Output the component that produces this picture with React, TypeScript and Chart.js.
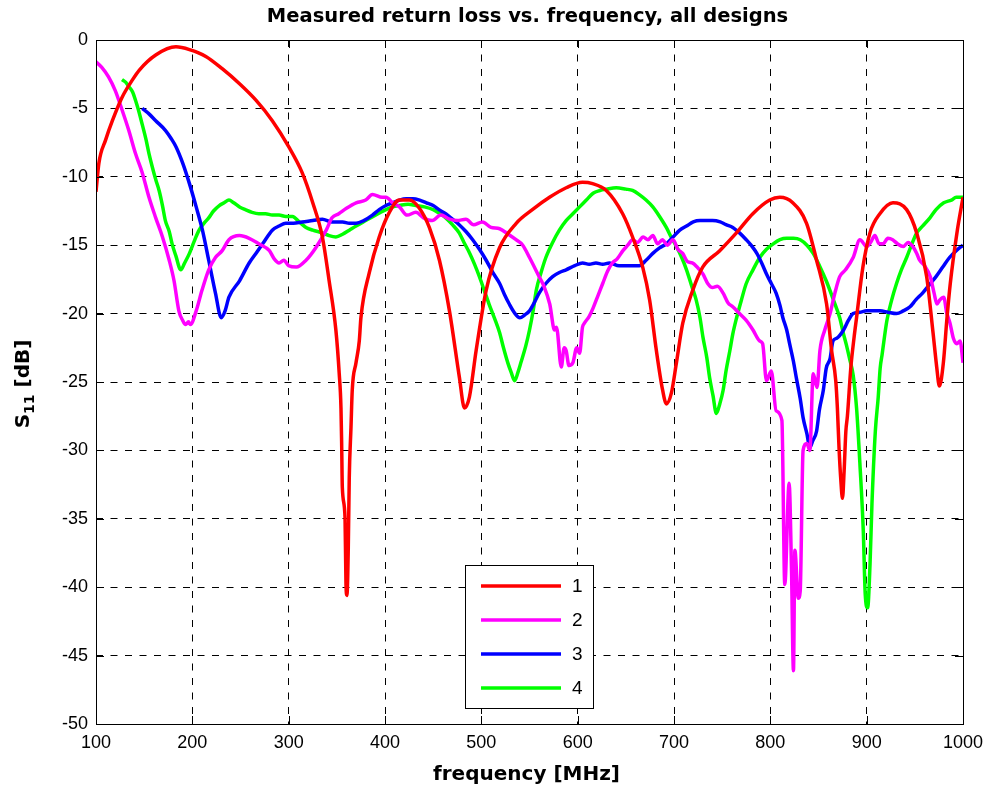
import React, { useEffect, useRef } from "react";
import { Chart, registerables } from "chart.js";

Chart.register(...registerables);

// Measured S11 (dB) versus frequency (MHz) for each design
const design1Freq = [100, 103, 110, 117, 127, 138, 145, 162, 183, 197, 214, 231, 249, 266, 283, 300, 314, 325, 335, 342, 349, 352.5, 354.3, 355, 355.7, 358.5, 359.5, 360.5, 361.9, 362.9, 364.7, 366, 369.9, 373.3, 375, 383.7, 394, 404.5, 414.9, 425.3, 435.7, 446, 456.5, 466.9, 477.3, 482.5, 487.6, 494.6, 505, 518.8, 536.2, 553, 570.8, 588.1, 605, 615.5, 629.7, 646.7, 657, 667.5, 674.7, 681.7, 688.2, 692.1, 697.3, 702.5, 709.1, 719.4, 729.8, 747.5, 764.8, 781.8, 799.4, 809.8, 823.3, 837.6, 848, 858.4, 863.6, 867.9, 869.6, 871.3, 873.2, 874.9, 876.6, 878.4, 880, 883.5, 887, 889.5, 896.1, 903.4, 913.7, 927.3, 941.5, 951.9, 962.3, 968.9, 972.7, 975.5, 979.6, 983.4, 986.8, 993.7, 1000];
const design1S11 = [-11.1, -9.0, -7.3, -5.9, -4.2, -2.9, -2.2, -1.1, -0.5, -0.7, -1.2, -2.1, -3.2, -4.4, -5.9, -7.8, -9.7, -11.9, -14.4, -17.6, -21.2, -24.4, -26.9, -29.5, -32.7, -34.9, -39.8, -40.6, -37.1, -32.0, -28.3, -25.6, -23.6, -22.0, -20.3, -17.0, -14.4, -12.6, -11.7, -11.7, -12.3, -13.7, -16.1, -19.8, -24.7, -26.9, -26.1, -22.7, -18.3, -15.2, -13.4, -12.4, -11.5, -10.8, -10.4, -10.5, -11.0, -12.7, -14.4, -16.6, -19.0, -22.7, -25.6, -26.6, -25.8, -23.6, -20.7, -18.3, -16.6, -15.4, -14.1, -12.7, -11.7, -11.5, -11.9, -13.4, -16.1, -19.3, -22.7, -24.9, -26.9, -29.8, -32.2, -33.5, -31.5, -28.6, -27.5, -24.0, -21.7, -20.3, -16.6, -14.1, -12.7, -11.9, -12.4, -14.1, -17.3, -21.4, -23.9, -25.3, -23.6, -20.3, -17.8, -14.1, -11.5];

const design2Freq = [100, 106, 113, 120, 127, 134, 141, 148, 155, 162, 169, 176, 181, 186, 190, 193, 196, 198, 204, 210, 217, 224, 231, 238, 249, 259, 269, 280, 285, 290, 295, 300, 308, 318, 328, 339, 345, 352, 360, 370, 380, 387, 397, 401, 408, 415, 423, 432, 440, 449, 458, 467, 475, 484, 492, 501, 510, 519, 528, 536, 543, 550, 560, 565, 571, 576, 578, 583, 586, 588, 591, 595, 599, 602, 605, 607, 612, 616, 621, 626, 631, 636, 641, 647, 652, 657, 662, 668, 673, 678, 683, 688, 693, 699, 704, 709, 714, 719, 724, 730, 735, 740, 745, 751, 756, 761, 768, 775, 782, 789, 792, 796, 801, 806, 812, 815, 819.5, 822, 824, 825.5, 829, 831, 834, 838, 841, 844.5, 848.5, 851.5, 856.5, 862, 867, 872, 878, 886, 893, 900, 904, 908.5, 913, 917, 922, 927, 932, 938, 943, 948, 952, 955, 960, 966, 970, 973, 976, 980, 983, 986.5, 990, 993.5, 997, 1000];
const design2S11 = [-1.6, -2.0, -2.7, -3.7, -5.1, -6.6, -8.3, -9.7, -11.5, -13.0, -14.4, -16.1, -17.6, -19.8, -20.5, -20.8, -20.6, -20.8, -19.8, -18.3, -16.8, -15.9, -15.4, -14.6, -14.3, -14.5, -14.9, -15.4, -16.0, -16.3, -16.1, -16.5, -16.6, -16.1, -15.2, -13.9, -13.0, -12.7, -12.3, -11.9, -11.7, -11.3, -11.5, -11.5, -11.9, -12.2, -12.8, -12.6, -13.0, -13.2, -12.8, -13.1, -13.2, -13.1, -13.5, -13.3, -13.7, -13.8, -14.2, -14.6, -15.0, -15.9, -17.3, -18.0, -19.3, -21.2, -21.0, -23.9, -22.5, -22.7, -23.8, -23.6, -22.5, -22.9, -21.0, -20.7, -20.2, -19.6, -18.7, -17.8, -16.9, -16.3, -16.0, -15.4, -15.0, -14.6, -14.8, -14.4, -14.6, -14.3, -14.9, -14.6, -15.0, -14.6, -15.3, -15.6, -16.2, -16.3, -16.6, -17.1, -17.8, -18.1, -18.0, -18.5, -19.2, -19.5, -20.0, -20.5, -21.2, -22.0, -22.2, -24.9, -24.2, -27.1, -27.8, -39.8, -32.4, -38.8, -46.1, -37.3, -40.8, -40.3, -30.0, -29.5, -30.0, -24.4, -25.4, -22.7, -21.2, -20.0, -18.5, -17.3, -16.8, -15.9, -14.6, -15.1, -14.8, -14.3, -14.9, -14.9, -14.5, -14.6, -14.9, -15.1, -14.8, -15.1, -15.6, -16.1, -16.5, -17.3, -18.5, -19.3, -19.0, -18.8, -19.9, -20.7, -21.8, -22.2, -22.0, -23.6];

const design3Freq = [148, 155, 162, 172, 178, 183, 190, 197, 204, 210.5, 217, 224, 230, 234, 238, 249, 259, 266, 273, 283, 290, 297, 305, 314, 325, 335, 345, 356, 363, 370, 378, 387, 394, 401, 408, 415, 422, 429, 436, 443, 450, 456, 463, 470, 477, 484, 491, 498, 505, 512, 519, 524, 529, 535, 540, 545, 550, 555, 560, 567, 574, 581, 588, 597, 605, 612, 619, 626, 633, 643, 654, 664, 671, 678, 685, 692, 699, 706, 713, 720, 727, 734, 740, 748, 754, 761, 768, 775, 780, 786, 791, 796, 801, 806, 810, 813, 817, 820, 824, 827, 831, 834, 838, 841, 844, 848, 851, 855, 858, 862, 865, 869, 876, 881, 886, 893, 900, 907, 914, 922, 931, 938, 945, 951, 958, 965, 972, 979, 986, 993, 1000];
const design3S11 = [-5.0, -5.4, -5.9, -6.6, -7.2, -7.8, -9.0, -10.5, -12.2, -13.9, -16.1, -18.5, -20.3, -19.8, -18.8, -17.6, -16.3, -15.6, -14.9, -13.9, -13.6, -13.4, -13.4, -13.3, -13.2, -13.1, -13.3, -13.3, -13.4, -13.4, -13.2, -12.8, -12.4, -12.1, -11.9, -11.7, -11.6, -11.6, -11.7, -11.9, -12.1, -12.4, -12.7, -13.1, -13.5, -14.0, -14.6, -15.3, -16.1, -17.0, -17.8, -18.6, -19.3, -20.0, -20.3, -20.1, -19.8, -19.2, -18.5, -17.8, -17.3, -17.0, -16.8, -16.5, -16.3, -16.4, -16.3, -16.4, -16.3, -16.5, -16.5, -16.5, -16.1, -15.6, -15.2, -14.9, -14.4, -13.9, -13.6, -13.3, -13.2, -13.2, -13.2, -13.3, -13.5, -13.7, -14.1, -14.6, -15.0, -15.6, -16.3, -17.1, -17.8, -18.5, -19.4, -20.3, -21.2, -22.2, -23.5, -24.7, -26.2, -27.6, -28.8, -29.8, -29.3, -28.6, -27.0, -25.6, -24.0, -23.3, -22.0, -21.8, -21.2, -20.5, -20.0, -19.9, -19.8, -19.8, -19.8, -19.9, -20.0, -19.8, -19.5, -19.0, -18.5, -17.9, -17.3, -16.6, -15.9, -15.4, -15.0];

const design4Freq = [127, 131, 134, 138, 141, 144, 147, 152, 155, 158.5, 162, 165.5, 169, 172, 176, 179, 183, 188, 192, 197, 202, 207, 212, 217, 222, 228, 233, 238, 243, 249, 255, 262, 269, 276, 283, 290, 297, 304, 311, 318, 325, 335, 342, 349, 356, 363, 370, 380, 390, 401, 408, 415, 424, 432, 441, 450, 457, 463, 470, 477, 482, 488, 493, 498, 503, 508, 514, 519, 523, 527.5, 531, 534.5, 538, 541, 546, 550, 554, 557, 562, 567, 574, 581, 588, 595, 602, 609, 616, 623, 630, 640, 650, 657, 664, 671, 678, 685, 692, 697, 702.5, 708, 713, 718, 723, 727, 730, 734, 737, 740.5, 744, 747.5, 751, 754, 758, 761, 765, 770, 775, 782, 789, 796, 803, 810, 817, 824, 831, 838, 844.5, 851, 858, 865, 872, 876, 879, 882.6, 886, 889.5, 893, 896.5, 898.5, 901, 903.5, 905.5, 909, 912, 914, 916, 921, 926, 931, 936, 941.5, 947, 952, 958, 965.7, 972, 980, 988, 993, 1000];
const design4S11 = [-2.9, -3.1, -3.4, -3.8, -4.4, -5.1, -5.9, -7.3, -8.3, -9.3, -10.2, -11.0, -12.1, -13.2, -14.0, -14.9, -15.8, -16.8, -16.3, -15.6, -14.7, -13.9, -13.4, -13.0, -12.5, -12.1, -11.9, -11.7, -11.9, -12.2, -12.4, -12.6, -12.7, -12.7, -12.8, -12.8, -12.9, -12.9, -13.3, -13.7, -13.9, -14.1, -14.3, -14.4, -14.2, -13.9, -13.6, -13.2, -12.8, -12.4, -12.2, -12.1, -12.0, -12.1, -12.2, -12.4, -12.7, -13.0, -13.5, -14.1, -14.8, -15.6, -16.4, -17.3, -18.3, -19.3, -20.4, -21.4, -22.5, -23.6, -24.3, -24.9, -24.3, -23.6, -22.4, -21.2, -19.7, -18.3, -17.0, -15.9, -14.8, -13.9, -13.2, -12.7, -12.2, -11.7, -11.2, -11.0, -10.9, -10.8, -10.9, -11.0, -11.3, -11.7, -12.2, -12.9, -13.7, -14.4, -15.1, -15.9, -16.8, -17.9, -19.0, -20.3, -21.7, -23.2, -24.7, -26.0, -27.3, -26.6, -25.6, -24.2, -22.7, -21.5, -20.3, -19.0, -17.8, -16.8, -15.9, -15.3, -14.9, -14.6, -14.5, -14.5, -14.6, -15.0, -15.6, -16.5, -17.6, -18.9, -20.3, -21.5, -22.3, -23.4, -24.5, -26.9, -31.0, -35.9, -40.5, -41.5, -38.3, -33.9, -28.6, -26.1, -24.0, -23.0, -20.5, -19.0, -17.8, -16.8, -15.9, -14.9, -14.1, -13.6, -13.0, -12.4, -11.9, -11.7, -11.5, -11.5];

const seriesLabels = ["1", "2", "3", "4"];
const seriesColors = ["#ff0000", "#ff00ff", "#0000ff", "#00ff00"];
const seriesFreqs = [design1Freq, design2Freq, design3Freq, design4Freq];
const seriesValues = [design1S11, design2S11, design3S11, design4S11];

const chartTitle = "Measured return loss vs. frequency, all designs";
const xAxisTitle = "frequency [MHz]";

const TICK_FONT = { family: "'Liberation Sans', Arial, sans-serif", size: 18 };
const BOLD_FAMILY = "'DejaVu Sans', Verdana, sans-serif";

const decorPlugin = {
  id: "decor",
  afterDatasetsDraw(chart: any) {
    const { ctx, chartArea: a, scales } = chart;
    ctx.save();
    // axes frame
    ctx.strokeStyle = "#000";
    ctx.lineWidth = 1;
    ctx.setLineDash([]);
    ctx.strokeRect(Math.round(a.left) + 0.5, Math.round(a.top) + 0.5, Math.round(a.right - a.left), Math.round(a.bottom - a.top));

    // inward tick marks on all four sides
    const tl = 8;
    ctx.beginPath();
    scales.x.ticks.forEach((t: any) => {
      const px = Math.round(scales.x.getPixelForValue(t.value)) + 0.5;
      ctx.moveTo(px, a.bottom); ctx.lineTo(px, a.bottom - tl);
      ctx.moveTo(px, a.top); ctx.lineTo(px, a.top + tl);
    });
    scales.y.ticks.forEach((t: any) => {
      const py = Math.round(scales.y.getPixelForValue(t.value)) + 0.5;
      ctx.moveTo(a.left, py); ctx.lineTo(a.left + tl, py);
      ctx.moveTo(a.right, py); ctx.lineTo(a.right - tl, py);
    });
    ctx.stroke();

    // legend box inside the plot
    const bx = 465, by = 565, bw = 128, bh = 143;
    ctx.fillStyle = "#fff";
    ctx.fillRect(bx, by, bw, bh);
    ctx.strokeRect(bx + 0.5, by + 0.5, bw, bh);
    const rowY = [586, 620, 654, 688];
    chart.data.datasets.forEach((ds: any, i: number) => {
      ctx.strokeStyle = ds.borderColor;
      ctx.lineWidth = 3.5;
      ctx.beginPath();
      ctx.moveTo(481, rowY[i]);
      ctx.lineTo(561, rowY[i]);
      ctx.stroke();
      ctx.fillStyle = "#000";
      ctx.font = "19px 'Liberation Sans', Arial, sans-serif";
      ctx.textAlign = "left";
      ctx.textBaseline = "middle";
      ctx.fillText(ds.label, 572, rowY[i] + 1);
    });

    // title
    const cx = (a.left + a.right) / 2;
    ctx.fillStyle = "#000";
    ctx.textAlign = "center";
    ctx.textBaseline = "middle";
    ctx.font = `bold 19.5px ${BOLD_FAMILY}`;
    ctx.fillText(chartTitle, cx - 2, 17);

    // x axis title
    ctx.font = `bold 20px ${BOLD_FAMILY}`;
    ctx.fillText(xAxisTitle, cx - 3, 775);

    // y axis title: S with subscript 11, then [dB]
    const cy = (a.top + a.bottom) / 2;
    ctx.translate(22, cy + 2);
    ctx.rotate(-Math.PI / 2);
    const fMain = `bold 20px ${BOLD_FAMILY}`;
    const fSub = `bold 14px ${BOLD_FAMILY}`;
    ctx.font = fMain;
    const wS = ctx.measureText("S").width;
    const wRest = ctx.measureText(" [dB]").width;
    ctx.font = fSub;
    const wSub = ctx.measureText("11").width;
    const total = wS + wSub + wRest;
    let x0 = -total / 2;
    ctx.textAlign = "left";
    ctx.textBaseline = "alphabetic";
    ctx.font = fMain;
    ctx.fillText("S", x0, 7);
    x0 += wS;
    ctx.font = fSub;
    ctx.fillText("11", x0, 12);
    x0 += wSub;
    ctx.font = fMain;
    ctx.fillText(" [dB]", x0, 7);
    ctx.restore();
  },
};

export default function App() {
  const canvasRef = useRef<HTMLCanvasElement | null>(null);

  useEffect(() => {
    document.body.style.margin = "0";
    const canvas = canvasRef.current;
    if (!canvas) return;
    const datasets = seriesLabels.map((label, i) => ({
      label,
      data: seriesFreqs[i].map((f, j) => ({ x: f, y: seriesValues[i][j] })),
      borderColor: seriesColors[i],
      backgroundColor: seriesColors[i],
      borderWidth: 3.5,
      pointRadius: 0,
      tension: 0,
      cubicInterpolationMode: "monotone" as const,
      fill: false,
    }));
    const chart = new Chart(canvas, {
      type: "line",
      data: { datasets },
      options: {
        responsive: false,
        animation: false,
        devicePixelRatio: 1,
        layout: { padding: { left: 0, top: 40, right: 29, bottom: 0 } },
        plugins: {
          legend: { display: false },
          title: { display: false },
          tooltip: { enabled: false },
        },
        scales: {
          x: {
            type: "linear",
            min: 100,
            max: 1000,
            ticks: {
              stepSize: 100, color: "#000", font: TICK_FONT, padding: 8, maxRotation: 0, autoSkip: false,
              callback: (v: any) => String(v),
            },
            grid: { color: "#000", lineWidth: 1, drawTicks: false, tickLength: 0 },
            border: { display: false, dash: [7, 7.5] },
            afterFit: (s: any) => { s.height = 69; },
          },
          y: {
            type: "linear",
            min: -50,
            max: 0,
            ticks: { stepSize: 5, color: "#000", font: TICK_FONT, padding: 8, callback: (v: any) => String(v) },
            grid: { color: "#000", lineWidth: 1, drawTicks: false, tickLength: 0 },
            border: { display: false, dash: [7, 7.5] },
            afterFit: (s: any) => { s.width = 96; },
          },
        },
      },
      plugins: [decorPlugin],
    });
    return () => chart.destroy();
  }, []);

  return (
    <div style={{ width: 992, height: 793 }}>
      <canvas ref={canvasRef} width={992} height={793} style={{ display: "block" }} />
    </div>
  );
}
